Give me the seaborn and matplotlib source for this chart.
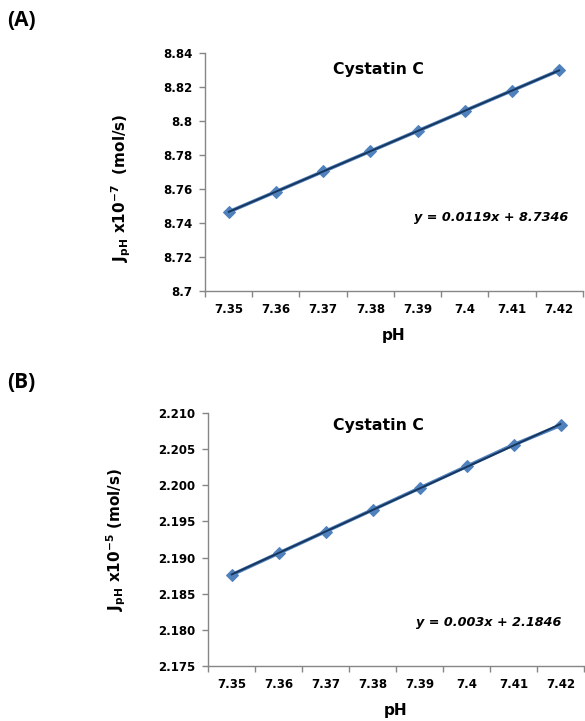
import matplotlib
matplotlib.use("Agg")
import matplotlib.pyplot as plt
import seaborn as sns
import pandas as pd
import numpy as np

# category positions (Excel-style category axis, x = 1..8)
cat_pos = [1, 2, 3, 4, 5, 6, 7, 8]
ph_labels = ["7.35", "7.36", "7.37", "7.38", "7.39", "7.4", "7.41", "7.42"]

jph_a = [8.7465, 8.7584, 8.7703, 8.7822, 8.7941, 8.8060, 8.8179, 8.8298]
jph_b = [2.1876, 2.1906, 2.1936, 2.1966, 2.1996, 2.2026, 2.2056, 2.2083]

yticks_a = [8.70, 8.72, 8.74, 8.76, 8.78, 8.80, 8.82, 8.84]
ylabels_a = ["8.7", "8.72", "8.74", "8.76", "8.78", "8.8", "8.82", "8.84"]
yticks_b = [2.175, 2.180, 2.185, 2.190, 2.195, 2.200, 2.205, 2.210]
ylabels_b = ["2.175", "2.180", "2.185", "2.190", "2.195", "2.200", "2.205", "2.210"]

sns.set_style("white")
plt.rcParams["font.family"] = ["DejaVu Sans"]
plt.rcParams["mathtext.default"] = "regular"
plt.rcParams["text.color"] = "black"
plt.rcParams["axes.labelcolor"] = "black"
plt.rcParams["xtick.labelcolor"] = "black"
plt.rcParams["ytick.labelcolor"] = "black"

MARKER = "#4F81BD"
TREND = "#17365D"
SPINE = "#868686"

fig = plt.figure(figsize=(5.85, 7.21), dpi=100)
ax_a = fig.add_axes([0.3504, 0.5964, 0.646, 0.3301])
ax_b = fig.add_axes([0.3556, 0.0763, 0.6427, 0.3509])


def draw_panel(ax, y, yticks, ylabels, ylabel, eq, eq_pos, title_pos, label_x, label_y):
    df = pd.DataFrame({"x": cat_pos, "y": y})
    sns.lineplot(data=df, x="x", y="y", ax=ax, color=MARKER, lw=2.6,
                 marker="D", markersize=6.5, markeredgecolor=MARKER)
    sns.regplot(data=df, x="x", y="y", ax=ax, scatter=False, ci=None,
                truncate=True, line_kws={"color": TREND, "lw": 1.4})

    ax.set_xlim(0.5, 8.5)
    ax.set_ylim(yticks[0], yticks[-1])
    ax.set_xticks(cat_pos)
    ax.set_xticklabels(ph_labels, fontweight="bold", fontsize=8.5)
    ax.set_xticks(np.arange(0.5, 9.0, 1.0), minor=True)
    ax.tick_params(axis="x", which="major", length=0, pad=9)
    ax.tick_params(axis="x", which="minor", length=4, width=1, color=SPINE,
                   direction="out", bottom=True)
    ax.set_yticks(yticks)
    ax.set_yticklabels(ylabels, fontweight="bold", fontsize=8.5)
    ax.tick_params(axis="y", length=4, width=1, color=SPINE, direction="out",
                   left=True, pad=5)

    for s in ["top", "right"]:
        ax.spines[s].set_visible(False)
    for s in ["left", "bottom"]:
        ax.spines[s].set_color(SPINE)
        ax.spines[s].set_linewidth(1)

    ax.set_xlabel("pH", fontweight="bold", fontsize=11, labelpad=8)
    ax.set_ylabel(ylabel, fontweight="bold", fontsize=11)
    ax.yaxis.set_label_coords(label_x, label_y)

    ax.text(title_pos[0], title_pos[1], "Cystatin C", transform=ax.transAxes,
            ha="center", va="center", fontweight="bold", fontsize=11.3)
    ax.text(eq_pos[0], eq_pos[1], eq, transform=ax.transAxes, ha="right",
            va="center", fontweight="bold", fontstyle="italic", fontsize=9.2)


draw_panel(ax_a, jph_a, yticks_a, ylabels_a,
           r"J$_{pH}$ x10$^{-7}$  (mol/s)", "y = 0.0119x + 8.7346",
           (0.960, 0.307), (0.458, 0.929), -0.19, 0.433)
draw_panel(ax_b, jph_b, yticks_b, ylabels_b,
           r"J$_{pH}$ x10$^{-5}$ (mol/s)", "y = 0.003x + 2.1846",
           (0.941, 0.170), (0.452, 0.949), -0.213, 0.502)

fig.text(0.012, 1 - 21 / 721, "(A)", fontweight="bold", fontsize=15,
         family="Open Sans", va="center", ha="left")
fig.text(0.012, 1 - 383 / 721, "(B)", fontweight="bold", fontsize=15,
         family="Open Sans", va="center", ha="left")

fig.savefig("out.png", dpi=100)
